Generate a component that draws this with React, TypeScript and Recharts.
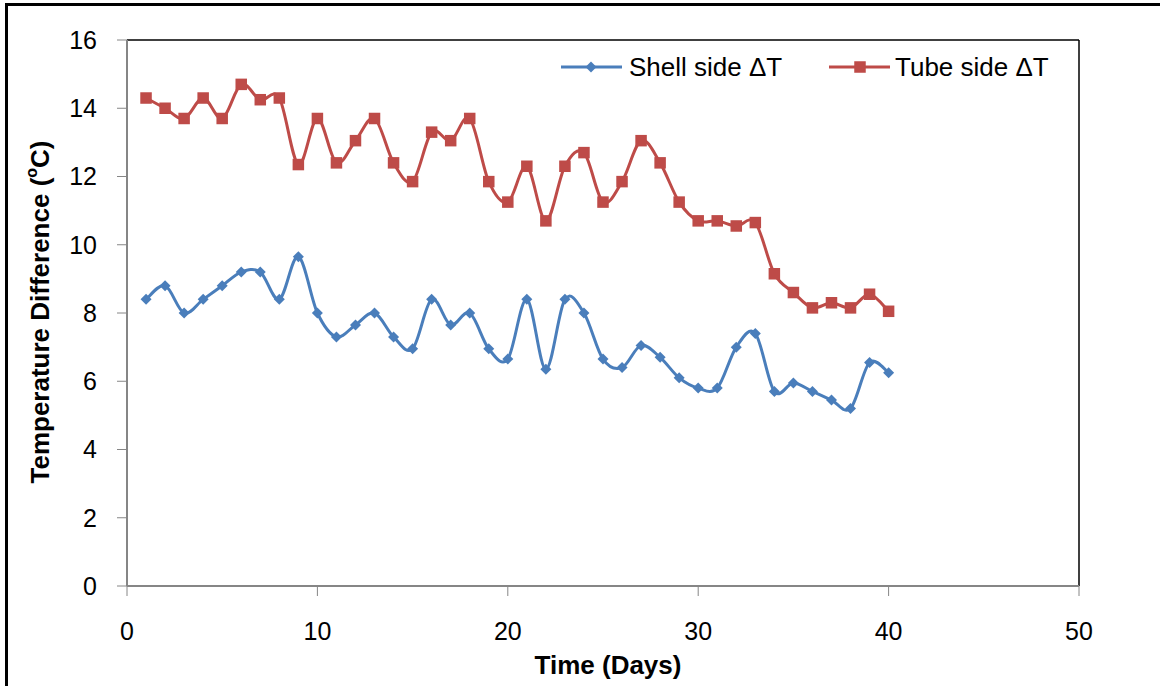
import React from 'react';
import {
  LineChart,
  Line,
  XAxis,
  YAxis,
  ReferenceLine,
} from 'recharts';

// Daily temperature difference across the exchanger
const days = [
  1, 2, 3, 4, 5, 6, 7, 8, 9, 10, 11, 12, 13, 14, 15, 16, 17, 18, 19, 20,
  21, 22, 23, 24, 25, 26, 27, 28, 29, 30, 31, 32, 33, 34, 35, 36, 37, 38, 39, 40,
];
const shellSide = [
  8.4, 8.8, 8.0, 8.4, 8.8, 9.2, 9.2, 8.4, 9.65, 8.0, 7.3, 7.65, 8.0, 7.3, 6.95, 8.4, 7.65, 8.0, 6.95, 6.65,
  8.4, 6.35, 8.4, 8.0, 6.65, 6.4, 7.05, 6.7, 6.1, 5.8, 5.8, 7.0, 7.4, 5.7, 5.95, 5.7, 5.45, 5.2, 6.55, 6.25,
];
const tubeSide = [
  14.3, 14.0, 13.7, 14.3, 13.7, 14.7, 14.25, 14.3, 12.35, 13.7, 12.4, 13.05, 13.7, 12.4, 11.85, 13.3, 13.05, 13.7, 11.85, 11.25,
  12.3, 10.7, 12.3, 12.7, 11.25, 11.85, 13.05, 12.4, 11.25, 10.7, 10.7, 10.55, 10.65, 9.15, 8.6, 8.15, 8.3, 8.15, 8.55, 8.05,
];
const xTicks = [0, 10, 20, 30, 40, 50];
const yTicks = [0, 2, 4, 6, 8, 10, 12, 14, 16];

const data = days.map((d, i) => ({ day: d, shell: shellSide[i], tube: tubeSide[i] }));

const BLUE = '#4A7EBB';
const RED = '#BE4B48';
const AXIS = '#868686';
const FONT = '"Liberation Sans", Arial, sans-serif';

// Catmull-Rom style smoothing, close to how spreadsheet "smoothed lines" look
const smoothCurve: any = (context: any) => {
  let pts: number[][] = [];
  return {
    areaStart() {},
    areaEnd() {},
    lineStart() {
      pts = [];
    },
    point(x: number, y: number) {
      pts.push([+x, +y]);
    },
    lineEnd() {
      const n = pts.length;
      if (!n) return;
      context.moveTo(pts[0][0], pts[0][1]);
      for (let i = 0; i < n - 1; i++) {
        const p0 = pts[Math.max(i - 1, 0)];
        const p1 = pts[i];
        const p2 = pts[i + 1];
        const p3 = pts[Math.min(i + 2, n - 1)];
        context.bezierCurveTo(
          p1[0] + (p2[0] - p0[0]) / 6,
          p1[1] + (p2[1] - p0[1]) / 6,
          p2[0] - (p3[0] - p1[0]) / 6,
          p2[1] - (p3[1] - p1[1]) / 6,
          p2[0],
          p2[1],
        );
      }
    },
  };
};

const Diamond = ({ cx, cy, r = 5.5 }: any) =>
  cx == null || cy == null ? null : (
    <path d={`M${cx},${cy - r}L${cx + r},${cy}L${cx},${cy + r}L${cx - r},${cy}Z`} fill={BLUE} />
  );

const Square = ({ cx, cy, s = 11.5 }: any) =>
  cx == null || cy == null ? null : (
    <rect x={cx - s / 2} y={cy - s / 2} width={s} height={s} fill={RED} />
  );

// legend sits inside the plot, top right
const LegendBox = () => (
  <svg
    width={520}
    height={40}
    style={{ position: 'absolute', left: 555, top: 47, display: 'block', pointerEvents: 'none' }}
  >
    <line x1={6} y1={20} x2={67} y2={20} stroke={BLUE} strokeWidth={3} />
    <Diamond cx={36} cy={20} />
    <text x={74} y={20} dominantBaseline="central" fontSize={26} fontFamily={FONT} fill="#000">
      Shell side ΔT
    </text>
    <line x1={274} y1={20} x2={335} y2={20} stroke={RED} strokeWidth={3} />
    <Square cx={305} cy={20} />
    <text x={340} y={20} dominantBaseline="central" fontSize={26} fontFamily={FONT} fill="#000">
      Tube side ΔT
    </text>
  </svg>
);

const YTitle = () => (
  <text
    x={40}
    y={312}
    transform="rotate(-90 40 312)"
    textAnchor="middle"
    dominantBaseline="central"
    fontSize={26}
    fontWeight="bold"
    fontFamily={FONT}
    fill="#000"
  >
    Temperature Difference (
    <tspan fontSize={16} dy={-9}>o</tspan>
    <tspan dy={9}>C)</tspan>
  </text>
);

const XTitle = () => (
  <text
    x={608}
    y={665}
    textAnchor="middle"
    dominantBaseline="central"
    fontSize={26}
    fontWeight="bold"
    fontFamily={FONT}
    fill="#000"
  >
    Time (Days)
  </text>
);

export default function App() {
  const tickStyle = { fontSize: 25, fontFamily: FONT, fill: '#000' };
  return (
    <div style={{ position: 'absolute', left: 0, top: 0, width: 1160, height: 686, background: '#fff', overflow: 'hidden' }}>
      <LineChart width={1160} height={686} data={data} margin={{ top: 40, right: 81, bottom: 0, left: 0 }}>
        <XAxis
          dataKey="day"
          type="number"
          domain={[0, 50]}
          ticks={xTicks}
          interval={0}
          height={100}
          tickSize={10}
          tickMargin={26}
          axisLine={{ stroke: AXIS, strokeWidth: 2 }}
          tickLine={{ stroke: AXIS, strokeWidth: 1 }}
          tick={tickStyle}
          label={<XTitle />}
        />
        <YAxis
          type="number"
          domain={[0, 16]}
          ticks={yTicks}
          interval={0}
          width={127}
          tickSize={10}
          tickMargin={20}
          axisLine={{ stroke: AXIS, strokeWidth: 2 }}
          tickLine={{ stroke: AXIS, strokeWidth: 1 }}
          tick={tickStyle}
          label={<YTitle />}
        />
        <ReferenceLine y={16} stroke="#000" strokeWidth={1.5} />
        <ReferenceLine x={50} stroke="#000" strokeWidth={1.5} />
        <Line
          dataKey="shell"
          name="Shell side ΔT"
          type={smoothCurve}
          stroke={BLUE}
          strokeWidth={3}
          dot={(p: any) => <Diamond key={`s-${p.index}`} cx={p.cx} cy={p.cy} />}
          activeDot={false}
          isAnimationActive={false}
        />
        <Line
          dataKey="tube"
          name="Tube side ΔT"
          type={smoothCurve}
          stroke={RED}
          strokeWidth={3}
          dot={(p: any) => <Square key={`t-${p.index}`} cx={p.cx} cy={p.cy} />}
          activeDot={false}
          isAnimationActive={false}
        />
      </LineChart>
      <LegendBox />
      <div
        style={{
          position: 'absolute',
          left: 5,
          top: 3,
          width: 1200,
          height: 700,
          borderTop: '3px solid #000',
          borderLeft: '3px solid #000',
          pointerEvents: 'none',
        }}
      />
    </div>
  );
}
